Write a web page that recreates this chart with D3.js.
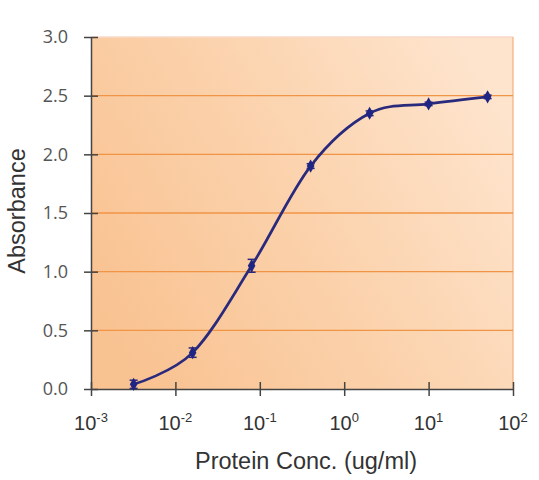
<!DOCTYPE html>
<html>
<head>
<meta charset="utf-8">
<script src="https://cdn.jsdelivr.net/npm/d3@7"></script>
<style>
  body { margin: 0; background: #fff; }
  svg { display: block; }
</style>
</head>
<body>
<div id="chart"></div>
<script>
// protein concentrations (ug/ml), 5-fold dilutions
const conc = [0.0032, 0.016, 0.08, 0.4, 2, 10, 50]
const absorbance = [0.04, 0.31, 1.05, 1.90, 2.35, 2.43, 2.49]
const errors = [0.035, 0.04, 0.055, 0.02, 0.02, 0.015, 0.015]
const xTickExps = [-3, -2, -1, 0, 1, 2]
const yTicks = [0, 0.5, 1.0, 1.5, 2.0, 2.5, 3.0]

const width = 539
const height = 480
const margin = {top: 37, right: 26, bottom: 91, left: 91}

const svg = d3.select('#chart').append('svg')
    .attr('width', width)
    .attr('height', height)

const x = d3.scaleLog()
    .domain([1e-3, 1e2])
    .range([margin.left, width - margin.right])
const y = d3.scaleLinear()
    .domain([0, 3])
    .range([height - margin.bottom, margin.top])

// background gradient, darker on the left
const defs = svg.append('defs')
const grad = defs.append('linearGradient')
    .attr('id', 'bg')
    .attr('x1', '0%').attr('y1', '75%')
    .attr('x2', '100%').attr('y2', '25%')
grad.append('stop').attr('offset', '0%').attr('stop-color', '#f9c291')
grad.append('stop').attr('offset', '50%').attr('stop-color', '#fbd2ac')
grad.append('stop').attr('offset', '100%').attr('stop-color', '#fee4cd')

svg.append('rect')
    .attr('x', x.range()[0])
    .attr('y', y.range()[1])
    .attr('width', x.range()[1] - x.range()[0])
    .attr('height', y.range()[0] - y.range()[1])
    .attr('fill', 'url(#bg)')

// top and right border
svg.append('line')
    .attr('x1', x.range()[0]).attr('x2', x.range()[1])
    .attr('y1', y(3)).attr('y2', y(3))
    .attr('stroke', '#f9d9c8').attr('stroke-width', 1.5)
svg.append('line')
    .attr('x1', x.range()[1]).attr('x2', x.range()[1])
    .attr('y1', y(3)).attr('y2', y(0))
    .attr('stroke', '#f3b07c').attr('stroke-width', 1.2)

// gridlines
svg.append('g').selectAll('line')
    .data(yTicks.filter(d => d > 0 && d < 3))
    .enter().append('line')
    .attr('x1', x.range()[0]).attr('x2', x.range()[1])
    .attr('y1', d => y(d)).attr('y2', d => y(d))
    .attr('stroke', '#f09446')
    .attr('stroke-width', 1.4)

// y axis
const yAxis = svg.append('g')
    .attr('transform', `translate(${x.range()[0]},0)`)
    .call(d3.axisLeft(y).tickValues(yTicks).tickFormat(d3.format('.1f')).tickSize(0).tickPadding(23))
yAxis.select('.domain').attr('stroke', '#444').attr('stroke-width', 1.5)
yAxis.selectAll('text')
    .attr('font-family', '"Open Sans", sans-serif')
    .attr('font-size', 18)
    .attr('fill', '#555')
yAxis.selectAll('.tick').append('line')
    .attr('x1', -7).attr('x2', 7)
    .attr('stroke', '#444').attr('stroke-width', 1.5)

// x axis
const xAxis = svg.append('g')
    .attr('transform', `translate(0,${y(0)})`)
    .call(d3.axisBottom(x).tickValues(xTickExps.map(e => Math.pow(10, e))).tickFormat('').tickSize(0))
xAxis.select('.domain').attr('stroke', '#444').attr('stroke-width', 1.5)
xAxis.selectAll('.tick').append('line')
    .attr('y1', -7).attr('y2', 7)
    .attr('stroke', '#444').attr('stroke-width', 1.5)

const xLabels = svg.append('g').selectAll('text')
    .data(xTickExps)
    .enter().append('text')
    .attr('x', d => x(Math.pow(10, d)))
    .attr('y', 430)
    .attr('text-anchor', 'middle')
    .attr('font-family', '"Liberation Sans", Arial, sans-serif')
    .attr('fill', '#333')
xLabels.append('tspan').attr('font-size', 20).text('10')
xLabels.append('tspan').attr('font-size', 13).attr('dy', -8).text(d => String(d))

// axis titles
svg.append('text')
    .attr('x', 306)
    .attr('y', 469)
    .attr('text-anchor', 'middle')
    .attr('font-family', '"Liberation Sans", Arial, sans-serif')
    .attr('font-size', 23.5)
    .attr('fill', '#333')
    .text('Protein Conc. (ug/ml)')

svg.append('text')
    .attr('transform', 'translate(25,211) rotate(-90)')
    .attr('text-anchor', 'middle')
    .attr('font-family', '"Liberation Sans", Arial, sans-serif')
    .attr('font-size', 23.5)
    .attr('fill', '#333')
    .text('Absorbance')

// data
const pts = conc.map((c, i) => ({c: c, a: absorbance[i], e: errors[i]}))
const navy = '#2a2a7c'

svg.append('path')
    .datum(pts)
    .attr('fill', 'none')
    .attr('stroke', navy)
    .attr('stroke-width', 2.7)
    .attr('d', d3.line().x(d => x(d.c)).y(d => y(d.a)).curve(d3.curveCardinal.tension(0)))

const err = svg.append('g').selectAll('g')
    .data(pts)
    .enter().append('g')
    .attr('stroke', navy)
    .attr('stroke-width', 1.5)
err.append('line')
    .attr('x1', d => x(d.c)).attr('x2', d => x(d.c))
    .attr('y1', d => y(d.a - d.e)).attr('y2', d => y(d.a + d.e))
err.append('line')
    .attr('x1', d => x(d.c) - 4).attr('x2', d => x(d.c) + 4)
    .attr('y1', d => y(d.a + d.e)).attr('y2', d => y(d.a + d.e))
err.append('line')
    .attr('x1', d => x(d.c) - 4).attr('x2', d => x(d.c) + 4)
    .attr('y1', d => y(d.a - d.e)).attr('y2', d => y(d.a - d.e))

svg.append('g').selectAll('path')
    .data(pts)
    .enter().append('path')
    .attr('transform', d => `translate(${x(d.c)},${y(d.a)})`)
    .attr('d', d3.symbol().type(d3.symbolDiamond).size(50))
    .attr('fill', '#1f2583')
</script>
</body>
</html>
